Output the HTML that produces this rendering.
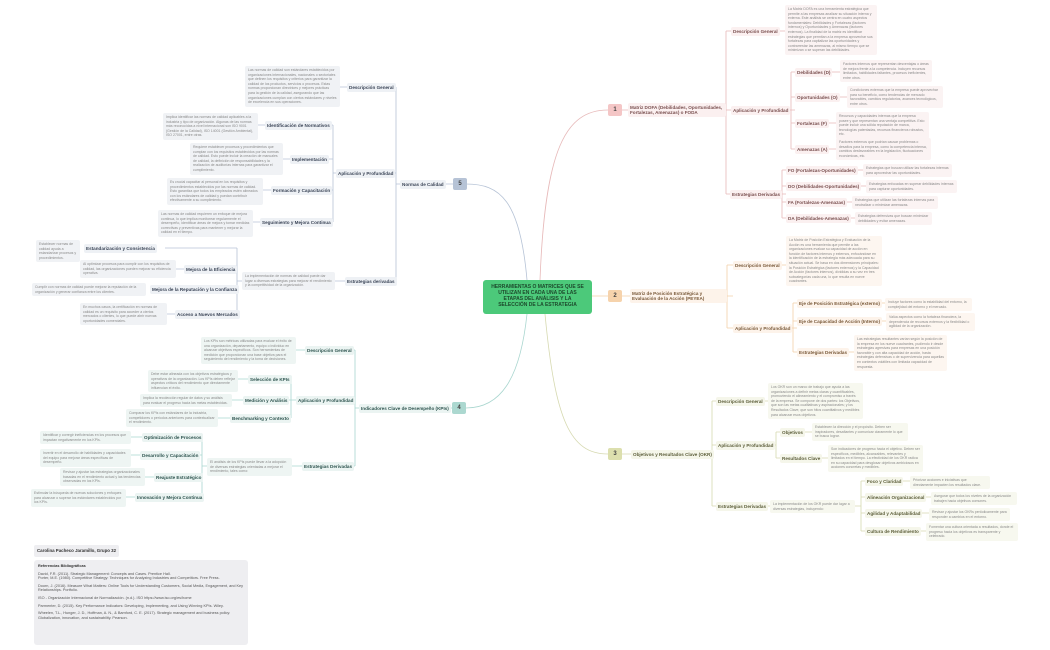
<!DOCTYPE html>
<html><head><meta charset="utf-8"><style>
*{margin:0;padding:0;box-sizing:border-box}
body{width:1050px;height:650px;background:#fff;position:relative;overflow:hidden;font-family:"Liberation Sans",sans-serif}
.l{position:absolute;font-size:4.6px;font-weight:bold;padding:2px 2px;border-radius:2px;white-space:nowrap;line-height:5px}
.d{position:absolute;font-size:3.5px;line-height:4.6px;padding:2px 3px;border-radius:2px;color:#8a8a8a}
.p{background:#fbf0f0;color:#7a5050}.pd{background:#fbf3f3}
.o{background:#fdf3ea;color:#7a5a3a}.od{background:#fdf6f0}
.g{background:#f5f6ea;color:#5c5e3a}.gd{background:#f7f8ef}
.b{background:#eef1f5;color:#3c4658}.bd{background:#f0f2f5}
.t{background:#ebf4f2;color:#2f5550}.td{background:#eef5f3}
.n{position:absolute;width:14px;height:12px;border-radius:2px;font-size:6px;font-weight:bold;text-align:center;line-height:12px;color:#444}
svg{position:absolute;left:0;top:0}
</style></head><body>
<svg width="1050" height="650" fill="none" stroke-width="0.8">
<g stroke="#e7b9b9">
<path d="M540 280 C545 150 565 110 608 110"/>
<path d="M622 110 H630 M725 110 H731 M726 31 V194 M726 31 H731 M726 194 H730 M776 31 H785 M790 110 H795 M791 72 V149 M791 72 H795 M791 97 H795 M791 123 H795 M791 149 H795 M831 72 H840 M838 97 H847 M828 123 H836 M828 149 H836 M777 194 H786 M782 170 V218 M782 170 H786 M782 186 H786 M782 202 H786 M782 218 H786 M854 170 H863 M857 186 H866 M841 202 H852 M846 218 H855"/>
</g>
<g stroke="#f4cfa8">
<path d="M592 296 H608 M622 296 H632 M727 296 H733 M727 265 V328 M727 265 H733 M727 328 H733 M778 265 H786 M790 328 H797 M793 303 V352 M793 303 H797 M793 321 H797 M793 352 H797 M876 303 H885 M878 321 H886 M845 352 H854"/>
</g>
<g stroke="#d6d9b0">
<path d="M545 314 C555 420 570 454 608 454"/>
<path d="M622 454 H633 M706 454 H712 M712 401 V506 M712 401 H716 M712 445 H716 M712 506 H716 M759 401 H768 M762 445 H776 M776 432 V458 M776 432 H780 M776 458 H780 M802 432 H812 M820 458 H828 M762 506 H770 M855 506 H861 M861 481 V531 M861 481 H865 M861 497 H865 M861 513 H865 M861 531 H865 M900 481 H910 M923 497 H931 M920 513 H929 M916 531 H926"/>
</g>
<g stroke="#b6c3d6">
<path d="M527 280 C520 200 500 184 466 184"/>
<path d="M453 184 H445 M400 184 H396 M396 87 V281 M396 87 H392 M396 173 H391 M396 281 H392 M347 87 H340 M336 173 H333 M333 125 V222 M333 125 H328 M333 159 H328 M333 190 H328 M333 222 H330 M265 125 H258 M290 159 H283 M271 190 H263 M260 222 H253 M345 281 H335 M242 281 H237 M237 248 V314 M237 248 H165 M237 269 H233 M237 289 H232 M237 314 H232 M184 269 H176 M175 314 H167"/>
</g>
<g stroke="#a9d6cf">
<path d="M527 314 C520 380 500 408 466 408"/>
<path d="M452 408 H443 M359 408 H355 M355 350 V466 M355 350 H350 M355 400 H350 M355 466 H350 M305 350 H296 M296 400 H291 M291 379 V418 M291 379 H286 M291 400 H286 M291 418 H286 M248 379 H238 M243 400 H232 M230 418 H218 M302 466 H292 M207 466 H202 M202 437 V497 M202 437 H197 M202 455 H197 M202 477 H197 M202 497 H197 M142 437 H131 M140 455 H131 M154 477 H145 M135 497 H126"/>
</g>
</svg>

<div style="position:absolute;left:483px;top:280px;width:109px;height:34px;background:#4cc97a;border-radius:3px;color:#1d4a2c;font-size:5px;font-weight:bold;text-align:center;line-height:6px;padding:4px 6px 0">HERRAMIENTAS O MATRICES QUE SE UTILIZAN EN CADA UNA DE LAS ETAPAS DEL ANÁLISIS Y LA SELECCIÓN DE LA ESTRATEGIA</div>

<div class="n" style="left:608px;top:104px;background:#f4c6c6">1</div>
<div class="n" style="left:608px;top:290px;background:#f6d3ac">2</div>
<div class="n" style="left:608px;top:448px;background:#dcdfae">3</div>
<div class="n" style="left:452px;top:402px;background:#acd8d0">4</div>
<div class="n" style="left:453px;top:178px;background:#b6c3d6">5</div>

<!-- Branch 1 -->
<div class="l p" style="left:628px;top:103px;width:98px;white-space:normal;font-weight:bold">Matriz DOFA (Debilidades, Oportunidades, Fortalezas, Amenazas) o FODA</div>
<div class="l p" style="left:731px;top:27px">Descripción General</div>
<div class="d pd" style="left:785px;top:5px;width:92px">La Matriz DOFA es una herramienta estratégica que permite a las empresas analizar su situación interna y externa. Este análisis se centra en cuatro aspectos fundamentales: Debilidades y Fortalezas (factores internos) y Oportunidades y Amenazas (factores externos). La finalidad de la matriz es identificar estrategias que permitan a la empresa aprovechar sus fortalezas para capitalizar las oportunidades y contrarrestar las amenazas, al mismo tiempo que se minimizan o se superan las debilidades.</div>
<div class="l p" style="left:731px;top:106px">Aplicación y Profundidad</div>
<div class="l p" style="left:795px;top:68px">Debilidades (D)</div>
<div class="d pd" style="left:840px;top:60px;width:92px">Factores internos que representan desventajas o áreas de mejora frente a la competencia. Incluyen recursos limitados, habilidades faltantes, procesos ineficientes, entre otros.</div>
<div class="l p" style="left:795px;top:93px">Oportunidades (O)</div>
<div class="d pd" style="left:847px;top:86px;width:96px">Condiciones externas que la empresa puede aprovechar para su beneficio, como tendencias de mercado favorables, cambios regulatorios, avances tecnológicos, entre otros.</div>
<div class="l p" style="left:795px;top:119px">Fortalezas (F)</div>
<div class="d pd" style="left:836px;top:112px;width:93px">Recursos y capacidades internas que la empresa posee y que representan una ventaja competitiva. Esto puede incluir una sólida reputación de marca, tecnologías patentadas, recursos financieros robustos, etc.</div>
<div class="l p" style="left:795px;top:145px">Amenazas (A)</div>
<div class="d pd" style="left:836px;top:138px;width:95px">Factores externos que podrían causar problemas o desafíos para la empresa, como la competencia intensa, cambios desfavorables en la legislación, fluctuaciones económicas, etc.</div>
<div class="l p" style="left:730px;top:190px">Estrategias Derivadas</div>
<div class="l p" style="left:786px;top:166px">FO (Fortalezas-Oportunidades)</div>
<div class="d pd" style="left:863px;top:164px;width:89px">Estrategias que buscan utilizar las fortalezas internas para aprovechar las oportunidades.</div>
<div class="l p" style="left:786px;top:182px">DO (Debilidades-Oportunidades)</div>
<div class="d pd" style="left:866px;top:180px;width:91px">Estrategias enfocadas en superar debilidades internas para capturar oportunidades.</div>
<div class="l p" style="left:786px;top:198px">FA (Fortalezas-Amenazas)</div>
<div class="d pd" style="left:852px;top:196px;width:86px">Estrategias que utilizan las fortalezas internas para neutralizar o minimizar amenazas.</div>
<div class="l p" style="left:786px;top:214px">DA (Debilidades-Amenazas)</div>
<div class="d pd" style="left:855px;top:212px;width:77px">Estrategias defensivas que buscan minimizar debilidades y evitar amenazas.</div>

<!-- Branch 2 -->
<div class="l o" style="left:630px;top:289px;width:97px;white-space:normal">Matriz de Posición Estratégica y Evaluación de la Acción (PEYEA)</div>
<div class="l o" style="left:733px;top:261px">Descripción General</div>
<div class="d od" style="left:786px;top:236px;width:96px">La Matriz de Posición Estratégica y Evaluación de la Acción es una herramienta que permite a las organizaciones evaluar su capacidad de acción en función de factores internos y externos, enfocándose en la identificación de la estrategia más adecuada para su situación actual. Se basa en dos dimensiones principales: la Posición Estratégica (factores externos) y la Capacidad de Acción (factores internos), divididas a su vez en tres subcategorías cada una, lo que resulta en nueve cuadrantes.</div>
<div class="l o" style="left:733px;top:324px">Aplicación y Profundidad</div>
<div class="l o" style="left:797px;top:299px">Eje de Posición Estratégica (externo)</div>
<div class="d od" style="left:885px;top:298px;width:87px">Incluye factores como la estabilidad del entorno, la complejidad del entorno y el mercado.</div>
<div class="l o" style="left:797px;top:317px">Eje de Capacidad de Acción (Interno)</div>
<div class="d od" style="left:886px;top:313px;width:89px">Valúa aspectos como la fortaleza financiera, la dependencia de recursos externos y la flexibilidad o agilidad de la organización.</div>
<div class="l o" style="left:797px;top:348px">Estrategias Derivadas</div>
<div class="d od" style="left:854px;top:335px;width:93px">Las estrategias resultantes varían según la posición de la empresa en los nueve cuadrantes, pudiendo ir desde estrategias agresivas para empresas en una posición favorable y con alta capacidad de acción, hasta estrategias defensivas o de supervivencia para aquellas en contextos volátiles con limitada capacidad de respuesta.</div>

<!-- Branch 3 -->
<div class="l g" style="left:631px;top:450px">Objetivos y Resultados Clave (OKR)</div>
<div class="l g" style="left:716px;top:397px">Descripción General</div>
<div class="d gd" style="left:768px;top:383px;width:95px">Los OKR son un marco de trabajo que ayuda a las organizaciones a definir metas claras y cuantificables, promoviendo el alineamiento y el compromiso a través de la empresa. Se compone de dos partes: los Objetivos, que son las metas cualitativas y aspiracionales; y los Resultados Clave, que son hitos cuantitativos y medibles para alcanzar esos objetivos.</div>
<div class="l g" style="left:716px;top:441px">Aplicación y Profundidad</div>
<div class="l g" style="left:780px;top:428px">Objetivos</div>
<div class="d gd" style="left:812px;top:423px;width:96px">Establecen la dirección y el propósito. Deben ser inspiradores, desafiantes y comunicar claramente lo que se busca lograr.</div>
<div class="l g" style="left:780px;top:454px">Resultados Clave</div>
<div class="d gd" style="left:828px;top:445px;width:95px">Son indicadores de progreso hacia el objetivo. Deben ser específicos, medibles, alcanzables, relevantes y limitados en el tiempo. La efectividad de los OKR radica en su capacidad para desglosar objetivos ambiciosos en acciones concretas y medibles.</div>
<div class="l g" style="left:716px;top:502px">Estrategias Derivadas</div>
<div class="d gd" style="left:770px;top:500px;width:85px">La implementación de los OKR puede dar lugar a diversas estrategias, incluyendo:</div>
<div class="l g" style="left:865px;top:477px">Foco y Claridad</div>
<div class="d gd" style="left:910px;top:476px;width:80px">Priorizar acciones e iniciativas que directamente impacten los resultados clave.</div>
<div class="l g" style="left:865px;top:493px">Alineación Organizacional</div>
<div class="d gd" style="left:931px;top:492px;width:86px">Asegurar que todos los niveles de la organización trabajen hacia objetivos comunes.</div>
<div class="l g" style="left:865px;top:509px">Agilidad y Adaptabilidad</div>
<div class="d gd" style="left:929px;top:508px;width:81px">Revisar y ajustar los OKRs periódicamente para responder a cambios en el entorno.</div>
<div class="l g" style="left:865px;top:527px">Cultura de Rendimiento</div>
<div class="d gd" style="left:926px;top:523px;width:92px">Fomentar una cultura orientada a resultados, donde el progreso hacia los objetivos es transparente y celebrado.</div>

<!-- Branch 5 -->
<div class="l b" style="left:400px;top:180px">Normas de Calidad</div>
<div class="l b" style="left:347px;top:83px">Descripción General</div>
<div class="d bd" style="left:245px;top:66px;width:95px">Las normas de calidad son estándares establecidos por organizaciones internacionales, nacionales o sectoriales que definen los requisitos y criterios para garantizar la calidad de los productos, servicios o procesos. Estas normas proporcionan directrices y mejores prácticas para la gestión de la calidad, asegurando que las organizaciones cumplan con ciertos estándares y niveles de excelencia en sus operaciones.</div>
<div class="l b" style="left:336px;top:169px">Aplicación y Profundidad</div>
<div class="l b" style="left:265px;top:121px">Identificación de Normativos</div>
<div class="d bd" style="left:163px;top:113px;width:95px">Implica identificar las normas de calidad aplicables a la industria y tipo de organización. Algunas de las normas más reconocidas a nivel internacional son ISO 9001 (Gestión de la Calidad), ISO 14001 (Gestión Ambiental), ISO 27001, entre otras.</div>
<div class="l b" style="left:290px;top:155px">Implementación</div>
<div class="d bd" style="left:190px;top:143px;width:93px">Requiere establecer procesos y procedimientos que cumplan con los requisitos establecidos por las normas de calidad. Esto puede incluir la creación de manuales de calidad, la definición de responsabilidades y la realización de auditorías internas para garantizar el cumplimiento.</div>
<div class="l b" style="left:271px;top:186px">Formación y Capacitación</div>
<div class="d bd" style="left:167px;top:178px;width:96px">Es crucial capacitar al personal en los requisitos y procedimientos establecidos por las normas de calidad. Esto garantiza que todos los empleados estén alineados con los estándares de calidad y puedan contribuir efectivamente a su cumplimiento.</div>
<div class="l b" style="left:260px;top:218px">Seguimiento y Mejora Continua</div>
<div class="d bd" style="left:158px;top:210px;width:95px">Las normas de calidad requieren un enfoque de mejora continua, lo que implica monitorear regularmente el desempeño, identificar áreas de mejora y tomar medidas correctivas y preventivas para mantener y mejorar la calidad en el tiempo.</div>
<div class="l b" style="left:345px;top:277px">Estrategias derivadas</div>
<div class="d bd" style="left:242px;top:272px;width:93px">La implementación de normas de calidad puede dar lugar a diversas estrategias para mejorar el rendimiento y la competitividad de la organización.</div>
<div class="l b" style="left:84px;top:244px">Estandarización y Consistencia</div>
<div class="d bd" style="left:36px;top:240px;width:44px">Establecer normas de calidad ayuda a estandarizar procesos y procedimientos.</div>
<div class="l b" style="left:184px;top:265px">Mejora de la Eficiencia</div>
<div class="d bd" style="left:80px;top:260px;width:96px">Al optimizar procesos para cumplir con los requisitos de calidad, las organizaciones pueden mejorar su eficiencia operativa.</div>
<div class="l b" style="left:150px;top:285px">Mejora de la Reputación y la Confianza</div>
<div class="d bd" style="left:32px;top:283px;width:114px">Cumplir con normas de calidad puede mejorar la reputación de la organización y generar confianza entre los clientes.</div>
<div class="l b" style="left:175px;top:310px">Acceso a Nuevos Mercados</div>
<div class="d bd" style="left:80px;top:303px;width:87px">En muchos casos, la certificación en normas de calidad es un requisito para acceder a ciertos mercados o clientes, lo que puede abrir nuevas oportunidades comerciales.</div>

<!-- Branch 4 -->
<div class="l t" style="left:359px;top:404px">Indicadores Clave de Desempeño (KPIs)</div>
<div class="l t" style="left:305px;top:346px">Descripción General</div>
<div class="d td" style="left:201px;top:337px;width:95px">Los KPIs son métricas utilizadas para evaluar el éxito de una organización, departamento, equipo o individuo en alcanzar objetivos específicos. Son herramientas de medición que proporcionan una base objetiva para el seguimiento del rendimiento y la toma de decisiones.</div>
<div class="l t" style="left:296px;top:396px">Aplicación y Profundidad</div>
<div class="l t" style="left:248px;top:375px">Selección de KPIs</div>
<div class="d td" style="left:148px;top:370px;width:90px">Debe estar alineada con los objetivos estratégicos y operativos de la organización. Los KPIs deben reflejar aspectos críticos del rendimiento que directamente influencian el éxito.</div>
<div class="l t" style="left:243px;top:396px">Medición y Análisis</div>
<div class="d td" style="left:140px;top:394px;width:92px">Implica la recolección regular de datos y su análisis para evaluar el progreso hacia las metas establecidas.</div>
<div class="l t" style="left:230px;top:414px">Benchmarking y Contexto</div>
<div class="d td" style="left:126px;top:409px;width:92px">Comparar los KPIs con estándares de la industria, competidores o períodos anteriores para contextualizar el rendimiento.</div>
<div class="l t" style="left:302px;top:462px">Estrategias Derivadas</div>
<div class="d td" style="left:207px;top:458px;width:85px">El análisis de los KPIs puede llevar a la adopción de diversas estrategias orientadas a mejorar el rendimiento, tales como:</div>
<div class="l t" style="left:142px;top:433px">Optimización de Procesos</div>
<div class="d td" style="left:40px;top:431px;width:91px">Identificar y corregir ineficiencias en los procesos que impactan negativamente en los KPIs.</div>
<div class="l t" style="left:140px;top:451px">Desarrollo y Capacitación</div>
<div class="d td" style="left:40px;top:449px;width:91px">Invertir en el desarrollo de habilidades y capacidades del equipo para mejorar áreas específicas de desempeño.</div>
<div class="l t" style="left:154px;top:473px">Reajuste Estratégico</div>
<div class="d td" style="left:60px;top:468px;width:85px">Revisar y ajustar las estrategias organizacionales basadas en el rendimiento actual y las tendencias observadas en los KPIs.</div>
<div class="l t" style="left:135px;top:493px">Innovación y Mejora Continua</div>
<div class="d td" style="left:31px;top:489px;width:95px">Estimular la búsqueda de nuevas soluciones y enfoques para alcanzar o superar los estándares establecidos por los KPIs.</div>

<!-- Bottom-left -->
<div style="position:absolute;left:34px;top:545px;width:85px;height:12px;background:#eeeef1;border-radius:2px;font-size:4.4px;font-weight:bold;color:#333;padding:3px 3px;white-space:nowrap">Carolina Pacheco Jaramillo, Grupo 32</div>
<div style="position:absolute;left:34px;top:560px;width:214px;height:85px;background:#eeeef1;border-radius:3px;font-size:3.8px;color:#555;padding:4px 4px;line-height:4.6px">
<div style="font-weight:bold;color:#333;margin-bottom:3px">Referencias Bibliográficas</div>
<div>David, F.R. (2011). Strategic Management: Concepts and Cases. Prentice Hall.<br>Porter, M.E. (1980). Competitive Strategy: Techniques for Analyzing Industries and Competitors. Free Press.</div>
<div style="margin-top:3px">Doorn, J. (2016). Measure What Matters: Online Tools for Understanding Customers, Social Media, Engagement, and Key Relationships. Portfolio.</div>
<div style="margin-top:3px">ISO - Organización Internacional de Normalización. (n.d.). ISO https://www.iso.org/es/home</div>
<div style="margin-top:3px">Parmenter, D. (2015). Key Performance Indicators: Developing, Implementing, and Using Winning KPIs. Wiley.</div>
<div style="margin-top:3px">Wheelen, T.L., Hunger, J. D., Hoffman, A. N., &amp; Bamford, C. E. (2017). Strategic management and business policy: Globalization, innovation, and sustainability. Pearson.</div>
</div>
</body></html>
